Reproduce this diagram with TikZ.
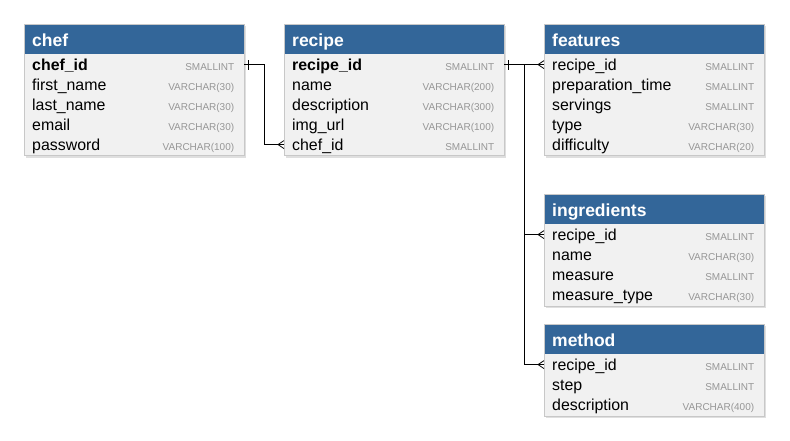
\documentclass[tikz,border=0pt]{standalone}
\usepackage{fontspec}
\setmainfont{Liberation Sans}
\usepackage{tikz}
\usetikzlibrary{
  positioning,
  calc,
  shadows,
  backgrounds
}
\definecolor{headblue}{RGB}{51,102,153}
\definecolor{bodygray}{RGB}{241,241,241}
\definecolor{framegray}{RGB}{200,200,200}
\definecolor{typegray}{RGB}{150,150,150}

\tikzset{
  tablehead/.style={anchor=north west, fill=headblue, text=white,
    font=\bfseries\fontsize{17.5}{20}\selectfont, align=left,
    text width=204pt, inner xsep=8pt, inner ysep=0pt, minimum height=30pt,
    text height=15.5pt, text depth=0.5pt},
  fieldrow/.style={anchor=north west, text=black,
    font=\fontsize{15.9}{18}\selectfont, align=left,
    text width=204pt, inner xsep=8pt, inner ysep=0pt, minimum height=20pt,
    text height=13pt, text depth=1pt},
  fieldtype/.style={anchor=base east, text=typegray,
    font=\fontsize{10}{12}\selectfont, inner sep=0pt},
  tablebody/.style={fill=bodygray,
    drop shadow={shadow xshift=2pt, shadow yshift=-2pt, opacity=0.25}},
  tableframe/.style={draw=framegray, line width=0.6pt},
  rel/.style={draw=black, line width=0.8pt},
  onemark/.pic={\draw[rel] (0,-5pt) -- (0,5pt);},
  manymark/.pic={\draw[rel] (0,4pt) -- (-6pt,0) -- (0,-4pt);}
}

\begin{document}
\begin{tikzpicture}[x=1pt, y=-1pt]
  \useasboundingbox (0,0) rectangle (790,441);

  % chef
  \node[tablehead] (chef) at (24,24) {chef};
  \foreach \fname/\ftype [count=\i] in {{\textbf{chef\_id}}/SMALLINT,
      first\_name/VARCHAR(30), last\_name/VARCHAR(30),
      email/VARCHAR(30), password/VARCHAR(100)} {
    \node[fieldrow] (chef-\i) at ([yshift={-20pt*(\i-1)}]chef.south west) {\fname};
    \node[fieldtype] (chef-\i-type) at ([xshift=-10pt]chef-\i.base east) {\ftype};
  }

  % recipe
  \node[tablehead] (recipe) at (284,24) {recipe};
  \foreach \fname/\ftype [count=\i] in {{\textbf{recipe\_id}}/SMALLINT,
      name/VARCHAR(200), description/VARCHAR(300),
      img\_url/VARCHAR(100), chef\_id/SMALLINT} {
    \node[fieldrow] (recipe-\i) at ([yshift={-20pt*(\i-1)}]recipe.south west) {\fname};
    \node[fieldtype] (recipe-\i-type) at ([xshift=-10pt]recipe-\i.base east) {\ftype};
  }

  % features
  \node[tablehead] (features) at (544,24) {features};
  \foreach \fname/\ftype [count=\i] in {recipe\_id/SMALLINT,
      preparation\_time/SMALLINT, servings/SMALLINT,
      type/VARCHAR(30), difficulty/VARCHAR(20)} {
    \node[fieldrow] (features-\i) at ([yshift={-20pt*(\i-1)}]features.south west) {\fname};
    \node[fieldtype] (features-\i-type) at ([xshift=-10pt]features-\i.base east) {\ftype};
  }

  % ingredients
  \node[tablehead] (ingredients) at (544,194) {ingredients};
  \foreach \fname/\ftype [count=\i] in {recipe\_id/SMALLINT,
      name/VARCHAR(30), measure/SMALLINT, measure\_type/VARCHAR(30)} {
    \node[fieldrow] (ingredients-\i) at ([yshift={-20pt*(\i-1)}]ingredients.south west) {\fname};
    \node[fieldtype] (ingredients-\i-type) at ([xshift=-10pt]ingredients-\i.base east) {\ftype};
  }

  % method
  \node[tablehead] (method) at (544,324) {method};
  \foreach \fname/\ftype [count=\i] in {recipe\_id/SMALLINT,
      step/SMALLINT, description/VARCHAR(400)} {
    \node[fieldrow] (method-\i) at ([yshift={-20pt*(\i-1)}]method.south west) {\fname};
    \node[fieldtype] (method-\i-type) at ([xshift=-10pt]method-\i.base east) {\ftype};
  }

  % テーブルの枠と影
  \foreach \tab/\n in {chef/5, recipe/5, features/5, ingredients/4, method/3} {
    \begin{scope}[on background layer]
      \path[tablebody] (\tab.north west) rectangle ([yshift=-1pt]\tab-\n.south east);
    \end{scope}
    \draw[tableframe] (\tab.north west) rectangle ([yshift=-1pt]\tab-\n.south east);
  }

  % リレーション
  \draw[rel] (chef-1.east) -- ++(20,0) |- (recipe-5.west);
  \pic at ([xshift=4pt]chef-1.east) {onemark};
  \pic at (recipe-5.west) {manymark};

  \coordinate (split) at ([xshift=20pt]recipe-1.east);
  \draw[rel] (recipe-1.east) -- (features-1.west);
  \draw[rel] (split) |- (ingredients-1.west);
  \draw[rel] (split) |- (method-1.west);
  \pic at ([xshift=4pt]recipe-1.east) {onemark};
  \foreach \tab in {features, ingredients, method}
    \pic at (\tab-1.west) {manymark};
\end{tikzpicture}
\end{document}
